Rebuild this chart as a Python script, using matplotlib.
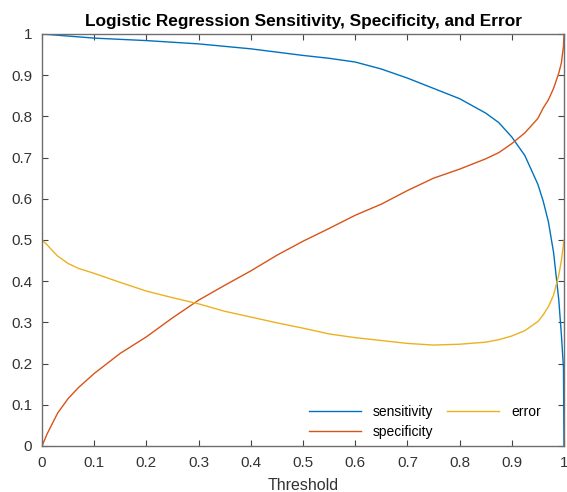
import matplotlib
matplotlib.use("Agg")
import matplotlib.pyplot as plt

plt.rcParams['font.family'] = ['Liberation Sans', 'DejaVu Sans']

# Umbrales y valores
threshold = [0, 0.01, 0.02, 0.03, 0.05, 0.07, 0.1, 0.15, 0.2, 0.25, 0.3, 0.35, 0.4, 0.45,
             0.5, 0.55, 0.6, 0.65, 0.7, 0.75, 0.8, 0.85, 0.875, 0.9, 0.925, 0.95, 0.96,
             0.97, 0.98, 0.99, 0.995, 0.999, 1.0]
sensitivity = [1.0, 0.999, 0.998, 0.997, 0.995, 0.993, 0.99, 0.987, 0.984, 0.980, 0.976,
               0.970, 0.964, 0.956, 0.948, 0.941, 0.932, 0.915, 0.893, 0.868, 0.843,
               0.808, 0.785, 0.750, 0.705, 0.635, 0.595, 0.545, 0.470, 0.355, 0.27,
               0.19, 0.0]
specificity = [0.0, 0.03, 0.055, 0.08, 0.115, 0.142, 0.176, 0.225, 0.265, 0.311, 0.354,
               0.39, 0.425, 0.463, 0.497, 0.528, 0.56, 0.587, 0.62, 0.65, 0.672, 0.697,
               0.712, 0.734, 0.76, 0.795, 0.82, 0.84, 0.868, 0.905, 0.93, 0.97, 1.0]
error = [0.5, 0.488, 0.474, 0.461, 0.443, 0.431, 0.419, 0.397, 0.376, 0.36, 0.345, 0.327,
         0.313, 0.299, 0.286, 0.272, 0.263, 0.256, 0.249, 0.245, 0.247, 0.252, 0.258,
         0.267, 0.28, 0.302, 0.318, 0.338, 0.366, 0.415, 0.45, 0.49, 0.5]

xticks = [0, 0.1, 0.2, 0.3, 0.4, 0.5, 0.6, 0.7, 0.8, 0.9, 1]
yticks = [0, 0.1, 0.2, 0.3, 0.4, 0.5, 0.6, 0.7, 0.8, 0.9, 1]
tick_labels = ['0', '0.1', '0.2', '0.3', '0.4', '0.5', '0.6', '0.7', '0.8', '0.9', '1']

fig = plt.figure(figsize=(5.67, 4.92), dpi=100)
ax = fig.add_axes([0.0741, 0.0935, 0.9206, 0.8374])

ax.plot(threshold, sensitivity, color='#0072BD', lw=1.0, label='sensitivity')
ax.plot(threshold, specificity, color='#D95319', lw=1.0, label='specificity')
ax.plot(threshold, error, color='#EDB120', lw=1.0, label='error')

ax.set_xlim(0, 1)
ax.set_ylim(0, 1)
ax.set_xticks(xticks)
ax.set_xticklabels(tick_labels)
ax.set_yticks(yticks)
ax.set_yticklabels(tick_labels)

for s in ax.spines.values():
    s.set_color('#6e6e6e')
    s.set_linewidth(1.0)
ax.tick_params(direction='in', top=True, right=True, length=4, width=0.8,
               color='#444444', labelcolor='#333333', labelsize=11)
ax.tick_params(axis='x', pad=7)
ax.tick_params(axis='y', pad=7)

ax.set_xlabel('Threshold', fontsize=11.5, color='#333333', labelpad=6)
ax.set_title('Logistic Regression Sensitivity, Specificity, and Error',
             fontsize=12.4, fontweight='bold', color='black', pad=6)

ax.legend(loc='lower right', ncol=2, frameon=False, fontsize=10,
          handlelength=3.7, columnspacing=1.0, handletextpad=0.9,
          labelspacing=0.45, bbox_to_anchor=(0.98, -0.014))

fig.savefig('out.png', dpi=100)
